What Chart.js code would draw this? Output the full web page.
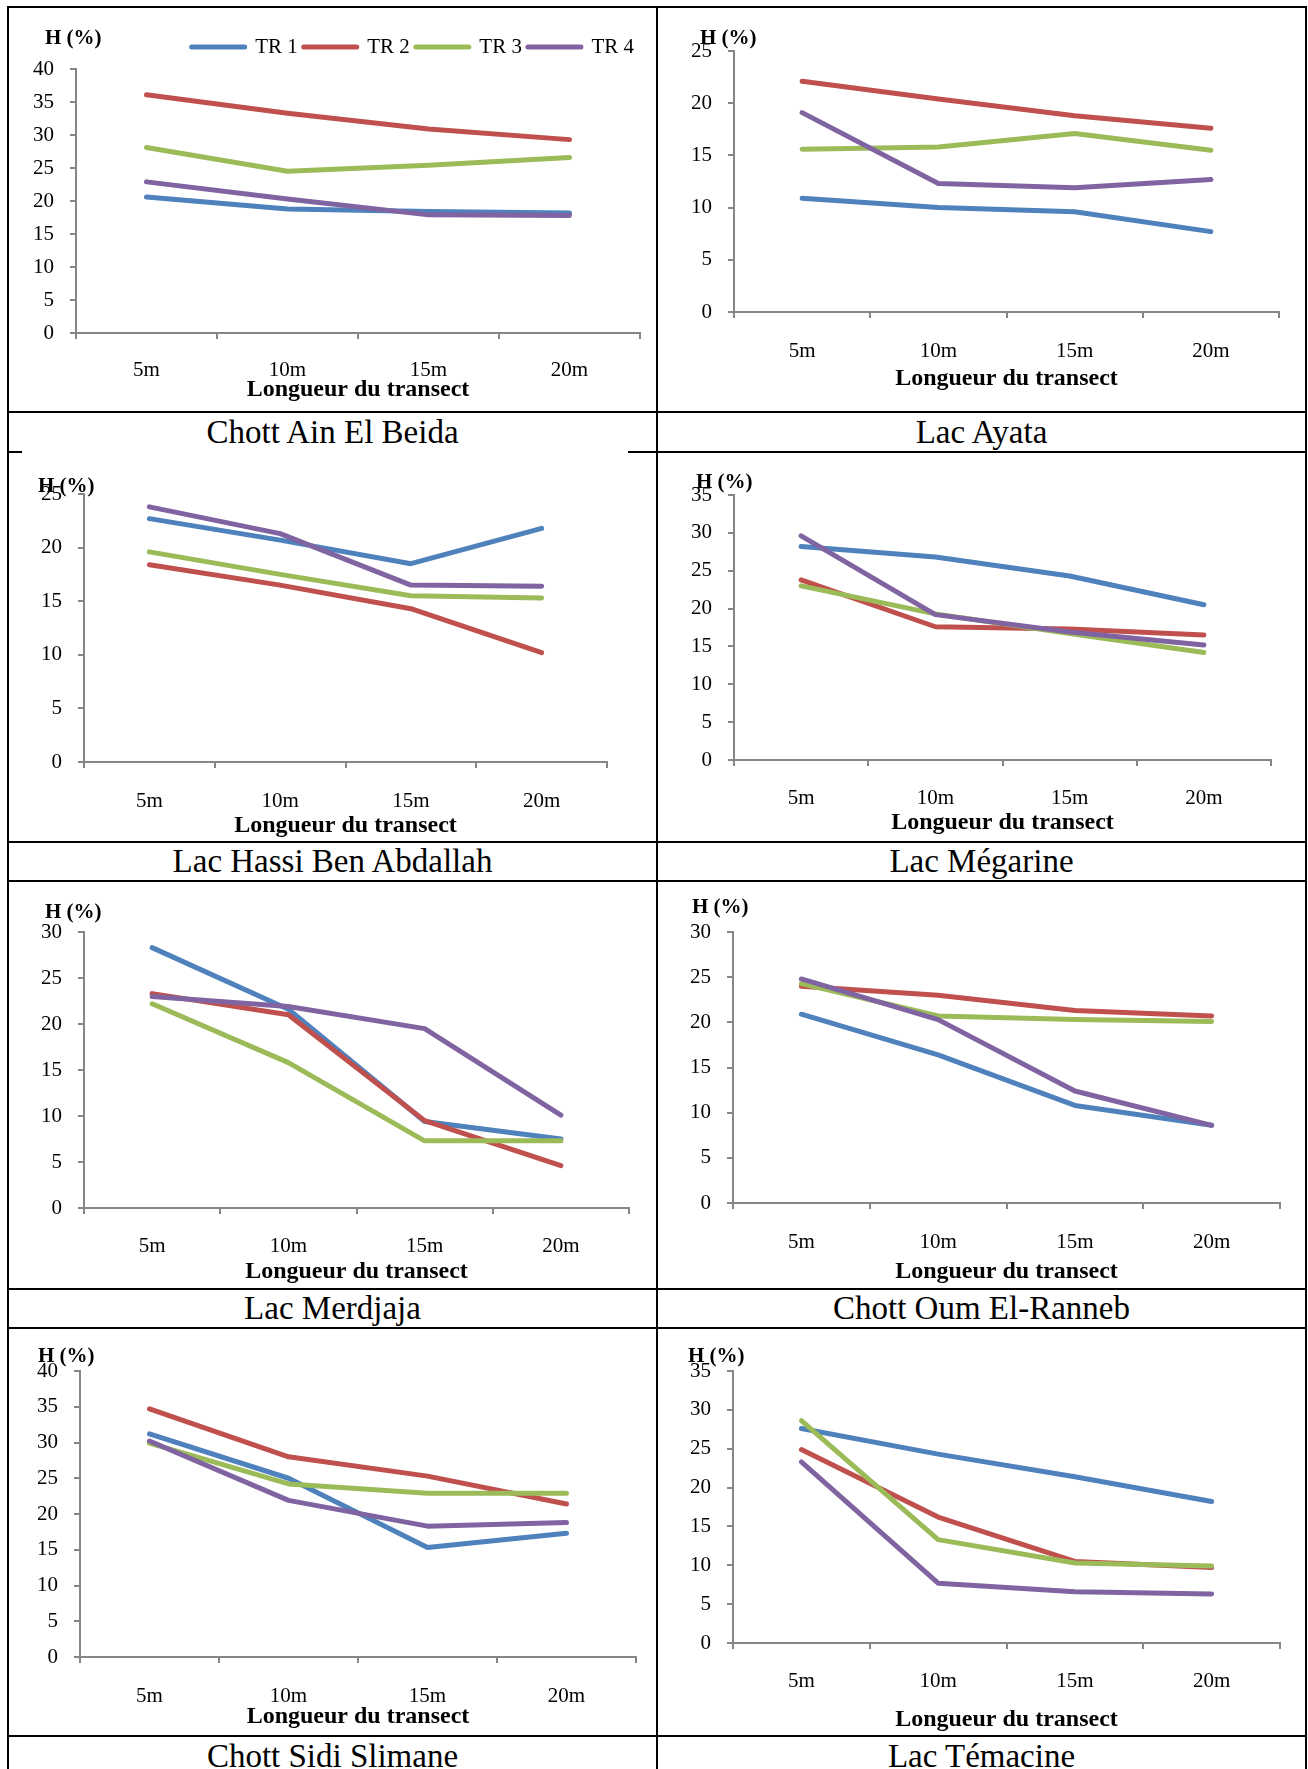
<!DOCTYPE html>
<html>
<head>
<meta charset="utf-8">
<title>Humidité des sols le long des transects</title>
<script src="https://cdn.jsdelivr.net/npm/chart.js@4.4.1/dist/chart.umd.min.js"></script>
<style>
  body { margin: 0; background: #fff; }
  #page { position: relative; width: 1308px; height: 1769px; overflow: hidden; background: #fff;
          font-family: "Liberation Serif", "Times New Roman", serif; }
  #page canvas { position: absolute; }
  .rule { position: absolute; background: #000; }
  .caption { position: absolute; text-align: center; font-size: 33px; color: #000; white-space: nowrap; }
</style>
</head>
<body>
<div id="page"></div>
<script>
const LENGTHS = ['5m', '10m', '15m', '20m'];
const TRANSECTS = ['TR 1', 'TR 2', 'TR 3', 'TR 4'];
const COLORS = ['#4F81BD', '#C0504D', '#9BBB59', '#8064A2'];

// H (%) for TR 1..TR 4, one row per transect, one value per length
const AIN_EL_BEIDA = [
  [20.6, 18.8, 18.4, 18.2],
  [36.1, 33.3, 30.9, 29.3],
  [28.1, 24.5, 25.4, 26.6],
  [22.9, 20.3, 17.9, 17.8]
];
const AYATA = [
  [10.9, 10.0, 9.6, 7.7],
  [22.1, 20.4, 18.8, 17.6],
  [15.6, 15.8, 17.1, 15.5],
  [19.1, 12.3, 11.9, 12.7]
];
const HASSI_BEN_ABDALLAH = [
  [22.7, 20.7, 18.5, 21.8],
  [18.4, 16.5, 14.3, 10.2],
  [19.6, 17.5, 15.5, 15.3],
  [23.8, 21.3, 16.5, 16.4]
];
const MEGARINE = [
  [28.2, 26.8, 24.3, 20.5],
  [23.8, 17.6, 17.3, 16.5],
  [23.0, 19.3, 16.7, 14.2],
  [29.6, 19.2, 16.9, 15.2]
];
const MERDJAJA = [
  [28.3, 21.6, 9.4, 7.5],
  [23.3, 21.0, 9.5, 4.6],
  [22.2, 15.8, 7.3, 7.3],
  [23.0, 21.9, 19.5, 10.1]
];
const OUM_EL_RANNEB = [
  [20.9, 16.4, 10.8, 8.6],
  [24.0, 23.0, 21.3, 20.7],
  [24.3, 20.7, 20.3, 20.1],
  [24.8, 20.3, 12.4, 8.6]
];
const SIDI_SLIMANE = [
  [31.2, 25.0, 15.3, 17.3],
  [34.7, 28.0, 25.3, 21.4],
  [29.9, 24.2, 22.9, 22.9],
  [30.2, 21.9, 18.3, 18.8]
];
const TEMACINE = [
  [27.6, 24.3, 21.4, 18.2],
  [24.9, 16.2, 10.5, 9.7],
  [28.6, 13.3, 10.3, 9.9],
  [23.3, 7.7, 6.6, 6.3]
];

const SITES = ['Chott Ain El Beida', 'Lac Ayata', 'Lac Hassi Ben Abdallah', 'Lac Mégarine',
               'Lac Merdjaja', 'Chott Oum El-Ranneb', 'Chott Sidi Slimane', 'Lac Témacine'];
const SITE_DATA = [AIN_EL_BEIDA, AYATA, HASSI_BEN_ABDALLAH, MEGARINE,
                   MERDJAJA, OUM_EL_RANNEB, SIDI_SLIMANE, TEMACINE];
const Y_MAX = [40, 25, 25, 35, 30, 30, 40, 35];
const Y_STEP = 5;

const SERIF = "'Liberation Serif', 'Times New Roman', serif";
const AXIS = '#868686';

// page geometry: canvas box, plot area edges (left, right, top, bottom),
// tick label row, axis title row, unit label position
const PANELS = [
  {box: [9, 8, 647, 403],     area: [76, 640, 69, 333],     labelY: 370,  titleY: 390,  unit: [45, 39],    legend: true},
  {box: [658, 8, 647, 403],   area: [734, 1279, 51, 312],   labelY: 351,  titleY: 379,  unit: [700, 39]},
  {box: [9, 453, 647, 388],   area: [84, 607, 494, 762],    labelY: 801,  titleY: 826,  unit: [38, 487]},
  {box: [658, 453, 647, 388], area: [734, 1271, 495, 760],  labelY: 798,  titleY: 823,  unit: [696, 483]},
  {box: [9, 882, 647, 406],   area: [84, 629, 932, 1208],   labelY: 1246, titleY: 1272, unit: [45, 913]},
  {box: [658, 882, 647, 406], area: [733, 1280, 932, 1203], labelY: 1242, titleY: 1272, unit: [692, 908]},
  {box: [9, 1329, 647, 406],  area: [80, 636, 1371, 1657],  labelY: 1696, titleY: 1717, unit: [38, 1357]},
  {box: [658, 1329, 647, 406],area: [733, 1280, 1371, 1643],labelY: 1681, titleY: 1720, unit: [688, 1357]}
];
const CAPTION_ROWS = [[412, 452], [842, 881], [1289, 1328], [1736, 1776]];
const COLUMNS = [[8, 657], [657, 1306]];

const page = document.getElementById('page');

// "H (%)" written above the value axis
const unitLabel = {
  id: 'unitLabel',
  afterDraw(chart, args, opts) {
    const ctx = chart.ctx;
    ctx.save();
    ctx.font = `bold 21px ${SERIF}`;
    ctx.fillStyle = '#000';
    ctx.textAlign = 'left';
    ctx.textBaseline = 'middle';
    ctx.fillText(opts.text, opts.x, opts.y);
    ctx.restore();
  }
};

const LEGEND_HEIGHT = 38.5;

// keep the legend strip at a fixed height so the plot area stays put
const fixedLegend = {
  id: 'fixedLegend',
  beforeInit(chart) {
    const legend = chart.legend;
    if (!legend) return;
    const fit = legend.fit;
    legend.fit = function () {
      fit.call(this);
      if (this.options.display) this.height = LEGEND_HEIGHT;
    };
  }
};

SITE_DATA.forEach((series, i) => {
  const p = PANELS[i];
  const [bx, by, bw, bh] = p.box;
  const [L, R, T, B] = p.area;

  const canvas = document.createElement('canvas');
  canvas.width = bw;
  canvas.height = bh;
  canvas.style.left = bx + 'px';
  canvas.style.top = by + 'px';
  canvas.style.width = bw + 'px';
  canvas.style.height = bh + 'px';
  page.appendChild(canvas);

  const legendH = p.legend ? LEGEND_HEIGHT : 0;

  new Chart(canvas, {
    type: 'line',
    data: {
      labels: LENGTHS,
      datasets: series.map((values, k) => ({
        label: TRANSECTS[k],
        data: values,
        borderColor: COLORS[k],
        backgroundColor: COLORS[k],
        borderWidth: 5,
        borderCapStyle: 'round',
        borderJoinStyle: 'round',
        pointRadius: 0,
        tension: 0,
        order: TRANSECTS.length - k
      }))
    },
    options: {
      responsive: false,
      animation: false,
      events: [],
      layout: {padding: {left: 0, right: bx + bw - R, top: T - by - legendH, bottom: 0}},
      scales: {
        x: {
          offset: true,
          grid: {offset: true, drawOnChartArea: false, tickLength: 6, color: AXIS, lineWidth: 2},
          border: {color: AXIS, width: 2},
          ticks: {
            color: '#000',
            font: {family: SERIF, size: 21, lineHeight: 1},
            padding: p.labelY - B - 6 - 10.5,
            maxRotation: 0,
            autoSkip: false
          },
          title: {
            display: true,
            text: 'Longueur du transect',
            color: '#000',
            font: {family: SERIF, size: 24, weight: 'bold', lineHeight: 1},
            padding: {top: 0, bottom: by + bh - p.titleY - 12}
          },
          afterFit(scale) { scale.height = by + bh - B; }
        },
        y: {
          min: 0,
          max: Y_MAX[i],
          grid: {drawOnChartArea: false, tickLength: 6, color: AXIS, lineWidth: 2},
          border: {color: AXIS, width: 2},
          ticks: {
            stepSize: Y_STEP,
            color: '#000',
            font: {family: SERIF, size: 21, lineHeight: 1},
            padding: 16
          },
          afterFit(scale) { scale.width = L - bx; }
        }
      },
      plugins: {
        legend: {
          display: !!p.legend,
          position: 'top',
          align: 'end',
          labels: {
            color: '#000',
            font: {family: SERIF, size: 21, lineHeight: 1},
            boxWidth: 53,
            boxHeight: 0,
            padding: 6,
            sort: (a, b) => a.datasetIndex - b.datasetIndex
          }
        },
        tooltip: {enabled: false},
        unitLabel: {text: 'H (%)', x: p.unit[0] - bx, y: p.unit[1] - by}
      }
    },
    plugins: [unitLabel, fixedLegend]
  });
});

// captions under each chart
SITES.forEach((name, i) => {
  const [x1, x2] = COLUMNS[i % 2];
  const [y1, y2] = CAPTION_ROWS[Math.floor(i / 2)];
  const d = document.createElement('div');
  d.className = 'caption';
  d.textContent = name;
  Object.assign(d.style, {
    left: x1 + 'px', width: (x2 - x1) + 'px',
    top: y1 + 'px', height: (y2 - y1) + 'px', lineHeight: (y2 - y1) + 'px'
  });
  page.appendChild(d);
});

// table rules
function rule(x, y, w, h) {
  const d = document.createElement('div');
  d.className = 'rule';
  Object.assign(d.style, {left: x + 'px', top: y + 'px', width: w + 'px', height: h + 'px'});
  page.appendChild(d);
}
const HLINES = [
  [7, 8, 1306], [412, 8, 1306],
  [452, 8, 21], [452, 629, 1306],
  [842, 8, 1306], [881, 8, 1306], [1289, 8, 1306], [1328, 8, 1306], [1736, 8, 1306]
];
HLINES.forEach(([y, x1, x2]) => rule(x1 - 0.75, y - 0.75, x2 - x1 + 1.5, 1.5));
[8, 657, 1306].forEach(x => rule(x - 0.75, 7 - 0.75, 1.5, 1769));
</script>
</body>
</html>
